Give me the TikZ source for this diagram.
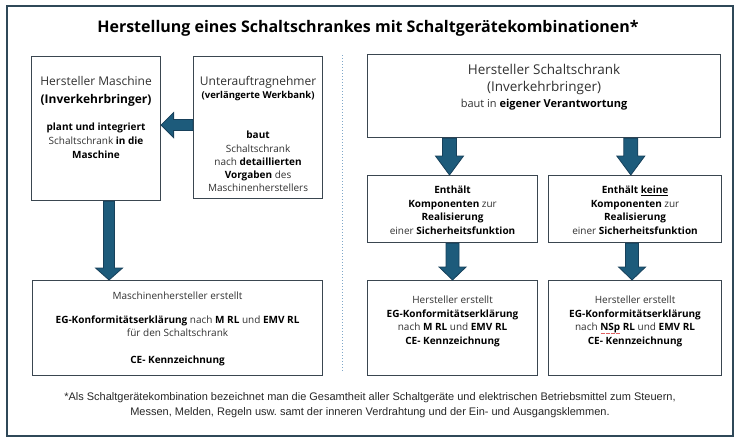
\documentclass[tikz,border=0pt]{standalone}
\usepackage{fontspec}
\setmainfont{Open Sans}
\newfontfamily\footfont{Liberation Sans}
\usetikzlibrary{calc}
\frenchspacing
\definecolor{arrowfill}{HTML}{1D5B7B}
\definecolor{arrowline}{HTML}{17405A}
\definecolor{boxline}{HTML}{3A4650}
\definecolor{frameline}{HTML}{2F4858}
\definecolor{txt}{HTML}{303030}
\definecolor{divider}{HTML}{7FA7C9}
\definecolor{spellred}{HTML}{E06060}
\newcommand\fs[2]{\fontsize{#1}{#2}\selectfont}
\newcommand\B[1]{\textbf{\color{black}#1}}
\newcommand\spellmark[1]{\setbox0=\hbox{#1}\rlap{\raisebox{-2.6pt}{\color{spellred}\xleaders\hbox to 1.2pt{\hss\rule{0.5pt}{0.45pt}\hss}\hskip\wd0}}\box0\relax}
\newcommand\blockarrowdown[5]{%
  \draw[blockarrow] let \p1=#1, \p2=#2 in
   (\x1-#3pt,\y1) -- (\x1+#3pt,\y1) -- (\x1+#3pt,\y2+#5pt) -- (\x1+#4pt,\y2+#5pt)
   -- (\x1,\y2) -- (\x1-#4pt,\y2+#5pt) -- (\x1-#3pt,\y2+#5pt) -- cycle;}
\newcommand\blockarrowleft[5]{%
  \draw[blockarrow] let \p1=#1, \p2=#2 in
   (\x1,\y1+#3pt) -- (\x2+#5pt,\y1+#3pt) -- (\x2+#5pt,\y1+#4pt) -- (\x2,\y1)
   -- (\x2+#5pt,\y1-#4pt) -- (\x2+#5pt,\y1-#3pt) -- (\x1,\y1-#3pt) -- cycle;}
\begin{document}
\begin{tikzpicture}[x=1pt,y=-1pt,
  box/.style={draw=boxline,line width=1.1pt,rectangle,inner sep=0pt,anchor=north west},
  txtnode/.style={align=center,inner sep=0pt,text=txt,anchor=north},
  blockarrow/.style={fill=arrowfill,draw=arrowline,line width=0.8pt,line join=miter}]
\useasboundingbox (0,0) rectangle (740,439);
\draw[frameline,line width=1.5pt] (7,6) rectangle (733,436);

\node[txtnode,anchor=center,text=black,font=\bfseries\fs{16}{18}] (title) at (368,28)
  {Herstellung eines Schaltschrankes mit Schaltgerätekombinationen*};

% boxes
\node[box,minimum width=129pt,minimum height=144pt] (A) at (31,56) {};
\node[box,minimum width=129pt,minimum height=142pt] (B) at (193,56) {};
\node[box,minimum width=290pt,minimum height=95pt] (F) at (32,280) {};
\node[box,minimum width=353pt,minimum height=83pt] (C) at (367,54) {};
\node[box,minimum width=170pt,minimum height=67pt] (D) at (367,175) {};
\node[box,minimum width=173pt,minimum height=67pt] (E) at (548,175) {};
\node[box,minimum width=170pt,minimum height=95pt] (G) at (367,280) {};
\node[box,minimum width=173pt,minimum height=95pt] (H) at (548,280) {};

% divider
\coordinate (d1) at (342,55);
\coordinate (d2) at (342,372);
\draw[divider,dotted,line width=1pt] (d1) -- (d2);

% texts
\node[txtnode,font=\fs{12}{18}] (A1) at ($(A.north)+(0,20)$)
  {Hersteller Maschine\\ \B{(Inverkehrbringer)}};
\node[txtnode,font=\fs{10}{14}] (A2) at ($(A.north)+(0,67)$)
  {\B{plant und integriert}\\ Schaltschrank \B{in die}\\ \B{Maschine}};

\node[txtnode,font=\fs{12}{18}] (B1) at ($(B.north)+(0,20)$) {Unterauftragnehmer};
\node[txtnode,font=\fs{9.5}{13}] (B2) at ($(B.north)+(0,35)$) {\B{(verlängerte Werkbank)}};
\node[txtnode,font=\fs{10}{13.3}] (B3) at ($(B.north)+(0,75)$)
  {\B{baut}\\ Schaltschrank\\ nach \B{detaillierten}\\ \B{Vorgaben} des\\ Maschinenherstellers};

\node[txtnode,font=\fs{13.5}{17}] (C1) at ($(C.north)+(0,10.5)$)
  {Hersteller Schaltschrank\\ (Inverkehrbringer)};
\node[txtnode,font=\fs{11}{14}] (C2) at ($(C.north)+(0,44.5)$)
  {baut in \B{eigener Verantwortung}};

\node[txtnode,font=\fs{10}{13.6}] (D1) at ($(D.north)+(0,11)$)
  {\B{Enthält}\\ \B{Komponenten} zur\\ \B{Realisierung}\\ einer \B{Sicherheitsfunktion}};
\node[txtnode,font=\fs{10}{13.6}] (E1) at ($(E.north)+(0,11)$)
  {\B{Enthält \underline{keine}}\\ \B{Komponenten} zur\\ \B{Realisierung}\\ einer \B{Sicherheitsfunktion}};

\node[txtnode,font=\fs{10}{13}] (F1) at ($(F.north)+(0,12)$)
  {Maschinenhersteller erstellt\\[11pt]
   \B{EG-Konformitätserklärung} nach \B{M RL} und \B{EMV RL}\\
   für den Schaltschrank\\[14pt]
   \B{CE- Kennzeichnung}};
\node[txtnode,font=\fs{10}{13.4}] (G1) at ($(G.north)+(0,16)$)
  {Hersteller erstellt\\ \B{EG-Konformitätserklärung}\\ nach \B{M RL} und \B{EMV RL}\\ \B{CE- Kennzeichnung}};
\node[txtnode,font=\fs{10}{13.4}] (H1) at ($(H.north)+(0,16)$)
  {Hersteller erstellt\\ \B{EG-Konformitätserklärung}\\ nach \spellmark{\B{NSp}} \B{RL} und \B{EMV RL}\\ \B{CE- Kennzeichnung}};

\node[txtnode,text=black!85,font=\footfont\fs{11}{15}] (foot) at (370,392)
  {*Als Schaltgerätekombination bezeichnet man die Gesamtheit aller Schaltgeräte und elektrischen Betriebsmittel zum Steuern,\\
   Messen, Melden, Regeln usw. samt der inneren Verdrahtung und der Ein- und Ausgangsklemmen.};

% arrows
\blockarrowleft{($(B.west)+(0,-2.5)$)}{(A.east)}{5.5}{12.5}{12.5}
\blockarrowdown{($(A.south west)!0.6!(A.south east)$)}{(F.north)}{5.5}{13.5}{12}
\blockarrowdown{($(C.south west)!0.233!(C.south east)$)}{(D.north)}{7}{14}{19}
\blockarrowdown{($(C.south west)!0.745!(C.south east)$)}{(E.north)}{7}{14}{19}
\blockarrowdown{(D.south)}{(G.north)}{6.5}{13.5}{13}
\blockarrowdown{($(E.south)+(-3,0)$)}{(H.north)}{6.5}{13.5}{13}
\end{tikzpicture}
\end{document}
